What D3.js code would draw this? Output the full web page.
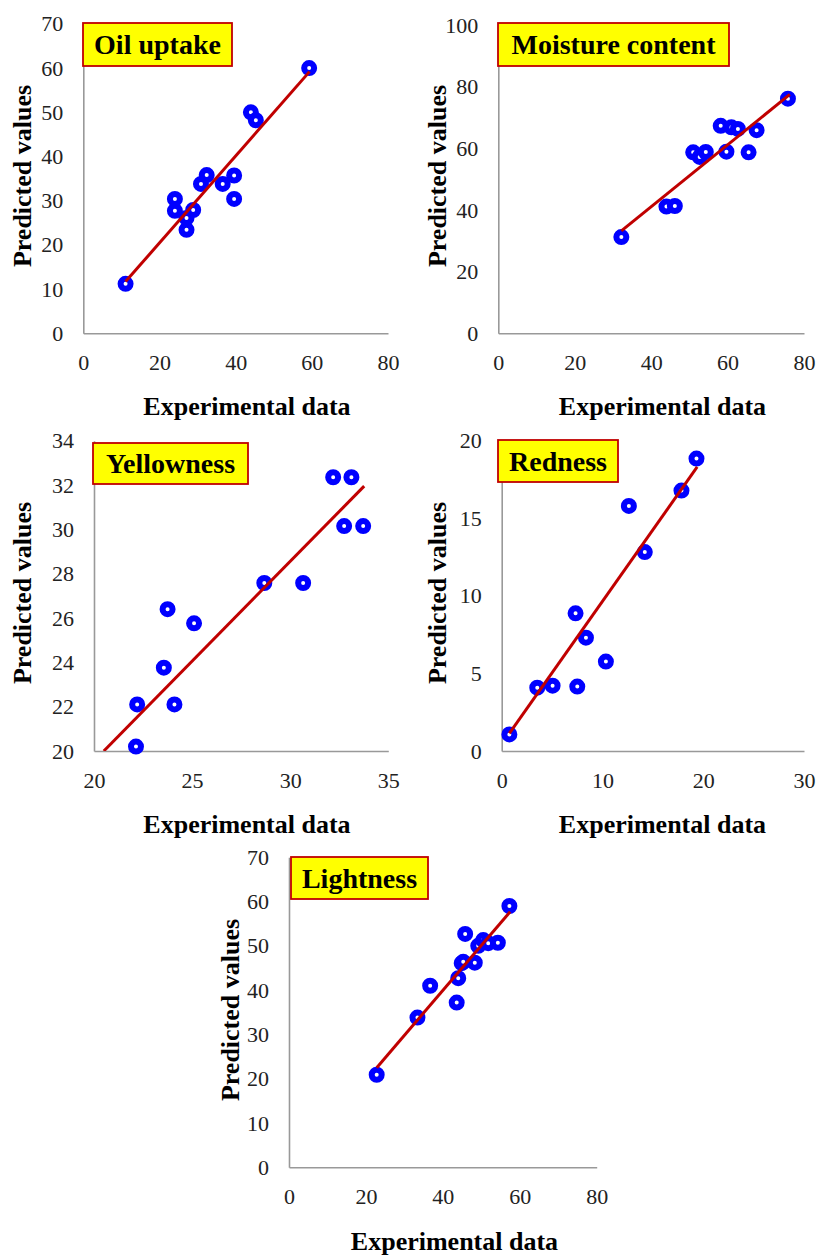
<!DOCTYPE html>
<html>
<head>
<meta charset="utf-8">
<script src="https://cdn.jsdelivr.net/npm/d3@7"></script>
<style>
  body { margin: 0; background: #fff; }
  svg text { font-family: "Liberation Serif", "Times New Roman", serif; }
</style>
</head>
<body>
<div id="container"></div>
<script>
// data
const oilX = [11.1, 59.3, 44.0, 45.3, 24.05, 24.05, 28.85, 27.1, 27.1, 30.9, 32.4, 36.6, 39.6, 39.6];
const oilY = [11.2, 60.0, 50.0, 48.2, 30.4, 27.7, 27.9, 26.1, 23.4, 33.8, 35.8, 33.8, 35.7, 30.4];
const oilFit = [[11.1, 11.7], [59.4, 59.2]];

const moistureX = [32.2, 44.0, 46.2, 51.0, 52.7, 54.3, 58.2, 59.7, 61.0, 62.7, 65.5, 67.6, 75.8];
const moistureY = [31.2, 41.1, 41.3, 58.7, 57.2, 58.8, 67.3, 58.9, 66.8, 66.3, 58.7, 65.9, 76.1];
const moistureFit = [[32.2, 33.2], [76.3, 77.5]];

const yellowX = [22.14, 22.2, 24.1, 23.56, 23.75, 25.1, 28.68, 30.66, 32.19, 33.12, 32.75, 33.72];
const yellowY = [20.2, 22.1, 22.1, 23.76, 26.4, 25.76, 27.58, 27.58, 32.35, 32.35, 30.15, 30.15];
const yellowFit = [[20.5, 20.0], [33.77, 31.95]];

const rednessX = [0.76, 3.53, 5.05, 7.5, 7.33, 8.36, 10.34, 12.62, 14.2, 17.84, 19.33];
const rednessY = [1.07, 4.08, 4.21, 4.15, 8.87, 7.3, 5.76, 15.79, 12.82, 16.78, 18.84];
const rednessFit = [[0.76, 1.14], [19.4, 18.3]];

const lightX = [22.8, 33.4, 36.7, 43.6, 44.0, 44.9, 45.3, 45.8, 48.3, 49.2, 50.5, 51.8, 54.3, 57.3];
const lightY = [20.9, 33.8, 41.0, 37.2, 42.7, 46.1, 46.4, 52.7, 46.2, 50.0, 51.3, 50.6, 50.7, 59.0];
const lightFit = [[22.8, 22.5], [57.5, 57.7]];

const ticks0to80 = [0, 20, 40, 60, 80];
const ticks0to70 = [0, 10, 20, 30, 40, 50, 60, 70];
const ticks0to100 = [0, 20, 40, 60, 80, 100];
const ticks20to35 = [20, 25, 30, 35];
const ticks20to34 = [20, 22, 24, 26, 28, 30, 32, 34];
const ticks0to30 = [0, 10, 20, 30];
const ticks0to20 = [0, 5, 10, 15, 20];

const titles = ["Oil uptake", "Moisture content", "Yellowness", "Redness", "Lightness"];
const xTitle = "Experimental data";
const yTitle = "Predicted values";

// layout of each panel (pixels)
const panels = [
  { title: titles[0], xs: oilX, ys: oilY, fit: oilFit, xTicks: ticks0to80, yTicks: ticks0to70,
    left: 83.3, right: 388, top: 23.9, bottom: 333.3,
    box: [83, 23, 232, 66], yLab: [22, 176], xLab: [247, 415] },
  { title: titles[1], xs: moistureX, ys: moistureY, fit: moistureFit, xTicks: ticks0to80, yTicks: ticks0to100,
    left: 498.3, right: 804, top: 25, bottom: 333.3,
    box: [498, 23, 729, 66], yLab: [437, 176], xLab: [662.5, 415] },
  { title: titles[2], xs: yellowX, ys: yellowY, fit: yellowFit, xTicks: ticks20to35, yTicks: ticks20to34,
    left: 94, right: 388.3, top: 440.7, bottom: 751,
    box: [93, 443, 248, 484], yLab: [22, 593], xLab: [247, 833] },
  { title: titles[3], xs: rednessX, ys: rednessY, fit: rednessFit, xTicks: ticks0to30, yTicks: ticks0to20,
    left: 501.7, right: 804, top: 440.6, bottom: 751,
    box: [498, 440, 618, 482], yLab: [437, 593], xLab: [662.5, 833] },
  { title: titles[4], xs: lightX, ys: lightY, fit: lightFit, xTicks: ticks0to80, yTicks: ticks0to70,
    left: 289, right: 596.7, top: 857.3, bottom: 1167.3,
    box: [291, 857, 428, 899], yLab: [230, 1010], xLab: [454.5, 1250] }
];

const svg = d3.select("#container")
  .append("svg")
  .attr("width", 818)
  .attr("height", 1256);

panels.forEach((p, i) => {
  const x = d3.scaleLinear()
    .domain(d3.extent(p.xTicks))
    .range([p.left, p.right]);
  const y = d3.scaleLinear()
    .domain(d3.extent(p.yTicks))
    .range([p.bottom, p.top]);

  const g = svg.append("g");

  // axes, no tick marks
  const xAxis = g.append("g")
    .attr("transform", `translate(0,${p.bottom})`)
    .call(d3.axisBottom(x).tickValues(p.xTicks).tickSize(0).tickPadding(21));
  const yAxis = g.append("g")
    .attr("transform", `translate(${p.left},0)`)
    .call(d3.axisLeft(y).tickValues(p.yTicks).tickSize(0).tickPadding(20));

  [xAxis, yAxis].forEach(a => {
    a.select(".domain").attr("stroke", "#999").attr("stroke-width", 1.6);
    a.selectAll("text")
      .attr("font-family", "Liberation Serif, Times New Roman, serif")
      .attr("font-size", 22)
      .attr("fill", "#222");
  });

  // clip for the trendline
  svg.append("clipPath")
    .attr("id", "clip" + i)
    .append("rect")
    .attr("x", p.left)
    .attr("y", p.top)
    .attr("width", p.right - p.left)
    .attr("height", p.bottom - p.top);

  // points
  g.selectAll("circle")
    .data(d3.zip(p.xs, p.ys))
    .join("circle")
    .attr("cx", d => x(d[0]))
    .attr("cy", d => y(d[1]))
    .attr("r", 5)
    .attr("fill", "white")
    .attr("stroke", "#0000ff")
    .attr("stroke-width", 6);

  // fitted line
  g.append("path")
    .datum(p.fit)
    .attr("clip-path", `url(#clip${i})`)
    .attr("fill", "none")
    .attr("stroke", "#c00000")
    .attr("stroke-width", 3)
    .attr("d", d3.line().x(d => x(d[0])).y(d => y(d[1])));

  // title box
  const [bx0, by0, bx1, by1] = p.box;
  g.append("rect")
    .attr("x", bx0)
    .attr("y", by0)
    .attr("width", bx1 - bx0)
    .attr("height", by1 - by0)
    .attr("fill", "#ffff00")
    .attr("stroke", "#c00000")
    .attr("stroke-width", 1.8);
  g.append("text")
    .attr("x", (bx0 + bx1) / 2)
    .attr("y", (by0 + by1) / 2)
    .attr("dy", "0.35em")
    .attr("text-anchor", "middle")
    .attr("font-size", 28)
    .attr("font-weight", "bold")
    .attr("fill", "#000")
    .text(p.title);

  // axis titles
  g.append("text")
    .attr("x", p.xLab[0])
    .attr("y", p.xLab[1])
    .attr("text-anchor", "middle")
    .attr("font-size", 26)
    .attr("font-weight", "bold")
    .text(xTitle);
  g.append("text")
    .attr("transform", `translate(${p.yLab[0]},${p.yLab[1]}) rotate(-90)`)
    .attr("dy", "0.35em")
    .attr("text-anchor", "middle")
    .attr("font-size", 26)
    .attr("font-weight", "bold")
    .text(yTitle);
});
</script>
</body>
</html>
